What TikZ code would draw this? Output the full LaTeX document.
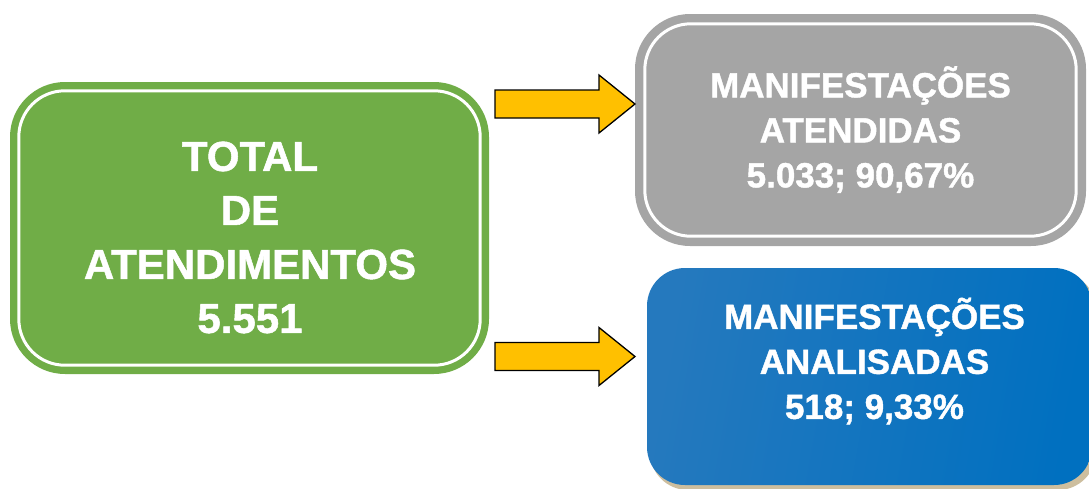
\documentclass[tikz,border=0pt]{standalone}
\usepackage{fontspec}
\setmainfont{Liberation Sans}[BoldFeatures={FakeBold=1.2}]
\usetikzlibrary{positioning}
\definecolor{boxgreen}{HTML}{70AD47}
\definecolor{boxgray}{HTML}{A5A5A5}
\definecolor{boxblue}{HTML}{0070C0}
\definecolor{boxbluelt}{HTML}{2579BE}
\definecolor{arrowgold}{HTML}{FFC000}
\definecolor{shadowtan}{HTML}{CDBE9E}
\newcommand{\blockarrow}[1]{%
  \draw[seta] (#1) ++(0,14) -- ++(104,0) -- ++(0,15) -- ++(36,-29)
    -- ++(-36,-29) -- ++(0,15) -- ++(-104,0) -- cycle;
}

\begin{document}
\begin{tikzpicture}[x=1pt,y=1pt,
      every node/.style={inner sep=0pt},
      panel/.style={fill=#1,rounded corners=55pt},
      inner line/.style={draw=white,line width=3pt,rounded corners=46pt},
      bigtext/.style={text=white,align=center,font=\fontsize{42}{54}\selectfont\bfseries},
      midtext/.style={text=white,align=center,font=\fontsize{35}{45}\selectfont\bfseries},
      seta/.style={fill=arrowgold,draw=black,line width=1.3pt,line join=miter}
    ]
      \useasboundingbox (0,0) rectangle (1089,-488);
      \clip (0,0) rectangle (1089,-488);
      % caixa verde
      \node[panel=boxgreen,minimum width=479pt,minimum height=292pt] (total) at (249.5,-228) {};
      \draw[inner line] ([shift={(9,9)}]total.south west) rectangle ([shift={(-9,-9)}]total.north east);
      \node[bigtext] (totaltxt) at (250,-237.5) {TOTAL\\DE\\ATENDIMENTOS\\5.551};
      % caixa cinza
      \node[panel=boxgray,minimum width=451pt,minimum height=232pt] (atend) at (860.5,-130) {};
      \draw[inner line] ([shift={(10,10)}]atend.south west) rectangle ([shift={(-10,-10)}]atend.north east);
      \node[midtext] (atendtxt) at (860.5,-129.5) {MANIFESTAÇÕES\\ATENDIDAS\\5.033; 90,67\%};
      % caixa azul
      \fill[shadowtan,rounded corners=38pt] (650,-272) rectangle (1096,-490);
      \node[rounded corners=38pt,minimum width=445pt,minimum height=217pt,
        left color=boxbluelt,right color=boxblue,shading angle=80] (anal) at (869.5,-376.5) {};
      \node[midtext] (analtxt) at (874.5,-361) {MANIFESTAÇÕES\\ANALISADAS\\518; 9,33\%};
      % setas
      \coordinate (seta1) at (495,-104);
      \coordinate (seta2) at (495,-356.5);
      \blockarrow{seta1}
      \blockarrow{seta2}
\end{tikzpicture}
\end{document}
